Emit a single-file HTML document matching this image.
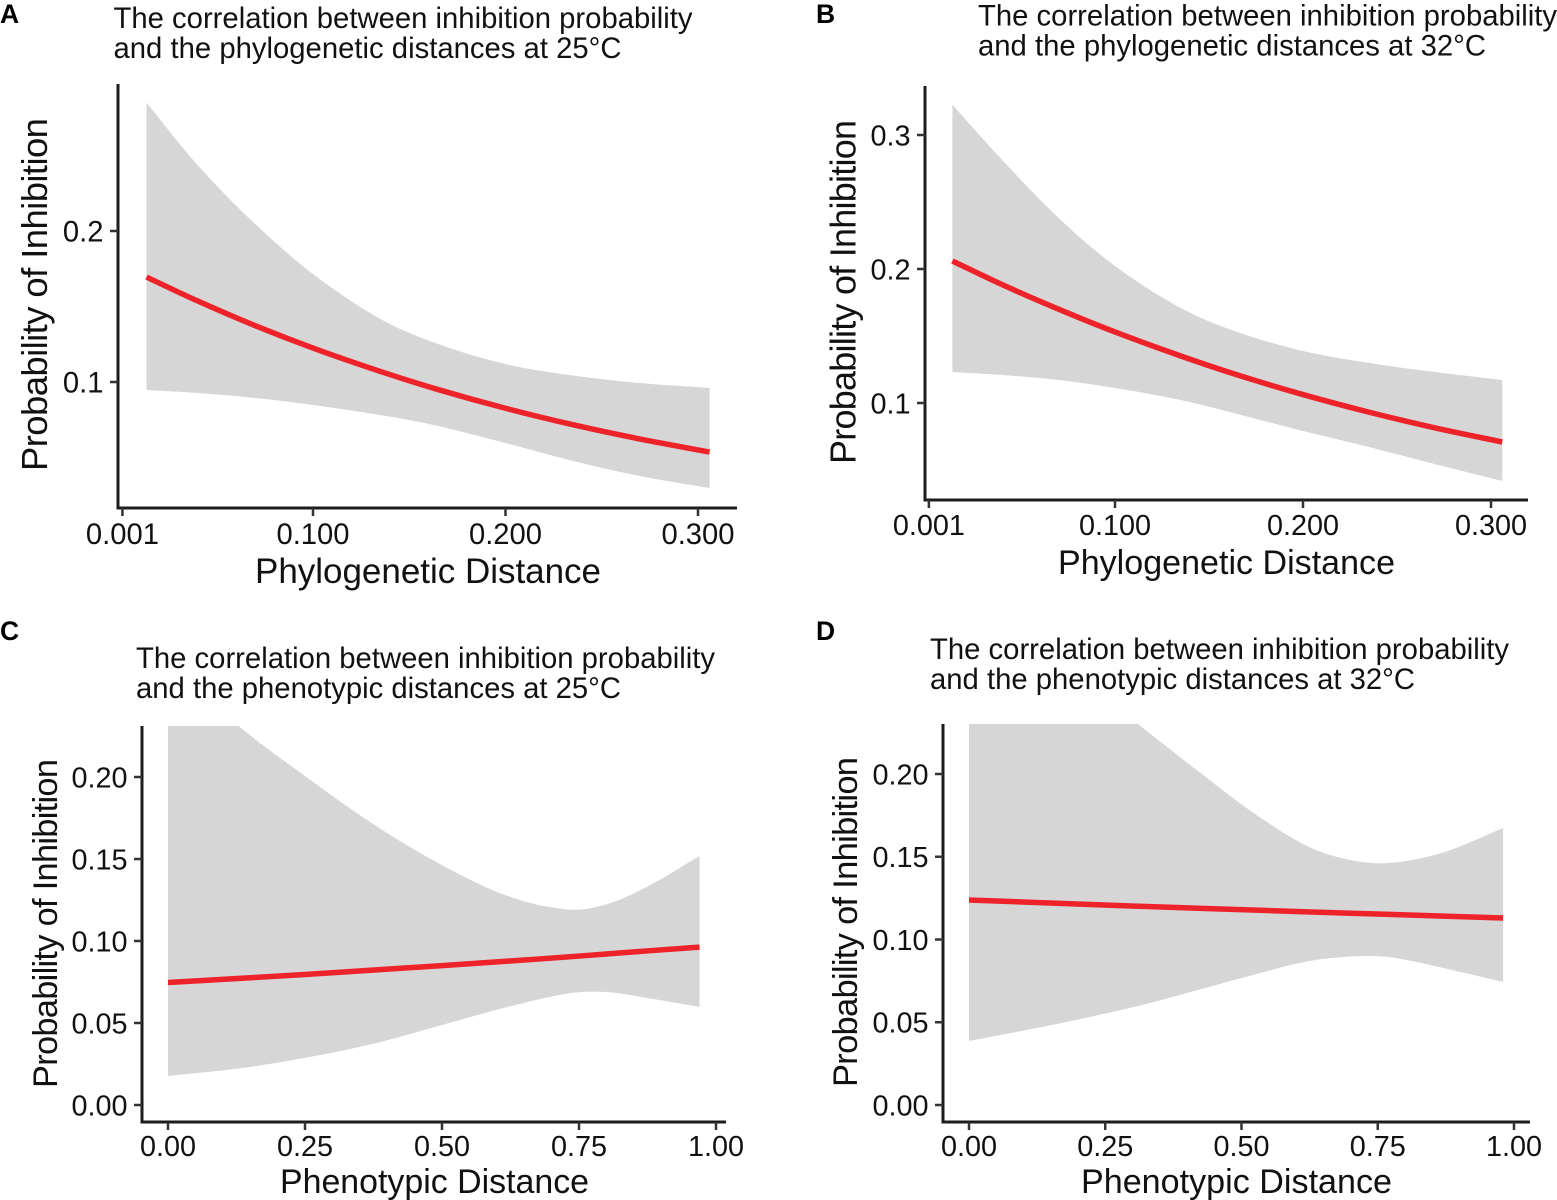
<!DOCTYPE html>
<html>
<head>
<meta charset="utf-8">
<title>Inhibition probability vs distance</title>
<style>
html,body{margin:0;padding:0;background:#fff;width:1557px;height:1200px;overflow:hidden}
svg{display:block}
text{font-family:"Liberation Sans",Arial,sans-serif;fill:#111}
.title{font-size:29.25px}
.letter{font-size:26.5px;font-weight:bold;fill:#000}
</style>
</head>
<body>
<svg id="chart" width="1557" height="1200" viewBox="0 0 1557 1200" xmlns="http://www.w3.org/2000/svg">
  <g id="panel-a">
    <text class="letter" x="0" y="23">A</text>
    <text class="title" x="113.5" y="28" textLength="579">The correlation between inhibition probability</text>
    <text class="title" x="113.5" y="58" textLength="508">and the phylogenetic distances at 25°C</text>
  </g>
  <g id="panel-b">
    <text class="letter" x="816" y="23">B</text>
    <text class="title" x="978" y="25.5" textLength="579">The correlation between inhibition probability</text>
    <text class="title" x="978" y="55.5" textLength="508">and the phylogenetic distances at 32°C</text>
  </g>
  <g id="panel-c">
    <text class="letter" x="0" y="640">C</text>
    <text class="title" x="136" y="668" textLength="579">The correlation between inhibition probability</text>
    <text class="title" x="136" y="698" textLength="485">and the phenotypic distances at 25°C</text>
  </g>
  <g id="panel-d">
    <text class="letter" x="816" y="640">D</text>
    <text class="title" x="930" y="659" textLength="579">The correlation between inhibition probability</text>
    <text class="title" x="930" y="689" textLength="485">and the phenotypic distances at 32°C</text>
  </g>
</svg>
<script>
// ---- Data ----
const phyloX = [0.0135, 0.04, 0.07, 0.1, 0.135, 0.165, 0.2, 0.235, 0.27, 0.306];
const aFit   = [0.1695, 0.1537, 0.1373, 0.1225, 0.1070, 0.0950, 0.0826, 0.0717, 0.0622, 0.0536];
const aUpper = [0.285, 0.2437, 0.2046, 0.1715, 0.1417, 0.1252, 0.1119, 0.1043, 0.0993, 0.096];
const aLower = [0.0947, 0.0927, 0.0894, 0.0848, 0.0781, 0.0709, 0.0596, 0.0477, 0.0377, 0.0298];

const bFit   = [0.206, 0.1883, 0.1700, 0.1530, 0.1351, 0.1210, 0.1063, 0.0932, 0.0815, 0.0709];
const bUpper = [0.3226, 0.2813, 0.2381, 0.2022, 0.1709, 0.153, 0.1388, 0.1299, 0.1231, 0.1172];
const bLower = [0.1231, 0.1209, 0.1172, 0.1112, 0.1022, 0.0918, 0.0791, 0.0672, 0.0545, 0.0418];

const cX     = [0, 0.13, 0.25, 0.38, 0.5, 0.62, 0.73, 0.8, 0.88, 0.97];
const cFit   = [0.0747, 0.0772, 0.0796, 0.0824, 0.0850, 0.0877, 0.0903, 0.0921, 0.0941, 0.0963];
const cUpper = [0.27, 0.2308, 0.2006, 0.1701, 0.1463, 0.1274, 0.1192, 0.1223, 0.1341, 0.1518];
const cLower = [0.0177, 0.0223, 0.0287, 0.0378, 0.0488, 0.0598, 0.068, 0.0689, 0.0649, 0.0598];

const dX     = [0, 0.16, 0.31, 0.42, 0.52, 0.62, 0.7, 0.77, 0.87, 0.98];
const dFit   = [0.1239, 0.1219, 0.1201, 0.1189, 0.1178, 0.1167, 0.1159, 0.1152, 0.1141, 0.113];
const dUpper = [0.315, 0.27, 0.2302, 0.2018, 0.177, 0.1565, 0.148, 0.1462, 0.1526, 0.1674];
const dLower = [0.0387, 0.0489, 0.0598, 0.0695, 0.0785, 0.0867, 0.0897, 0.0894, 0.0828, 0.0743];

const phyloXTicks = [0.001, 0.1, 0.2, 0.3];
const phyloXLabels = ['0.001', '0.100', '0.200', '0.300'];
const phenoXTicks = [0, 0.25, 0.5, 0.75, 1];
const phenoXLabels = ['0.00', '0.25', '0.50', '0.75', '1.00'];
const aYTicks = [0.1, 0.2];
const aYLabels = ['0.1', '0.2'];
const bYTicks = [0.1, 0.2, 0.3];
const bYLabels = ['0.1', '0.2', '0.3'];
const phenoYTicks = [0, 0.05, 0.1, 0.15, 0.2];
const phenoYLabels = ['0.00', '0.05', '0.10', '0.15', '0.20'];

const SVG_NS = 'http://www.w3.org/2000/svg';

function linearScale(d0, d1, r0, r1) {
  return function (v) { return r0 + (v - d0) * (r1 - r0) / (d1 - d0); };
}

// Cubic Hermite through the points; tangents account for uneven x spacing.
function smooth(pts, move) {
  function slope(i) {
    const a = pts[Math.max(i - 1, 0)];
    const b = pts[Math.min(i + 1, pts.length - 1)];
    return (b[1] - a[1]) / (b[0] - a[0]);
  }
  let d = (move ? 'M' : 'L') + pts[0][0].toFixed(2) + ' ' + pts[0][1].toFixed(2);
  for (let i = 0; i < pts.length - 1; i++) {
    const p1 = pts[i];
    const p2 = pts[i + 1];
    const h = (p2[0] - p1[0]) / 3;
    d += 'C' + (p1[0] + h).toFixed(2) + ' ' + (p1[1] + slope(i) * h).toFixed(2) + ' ' +
         (p2[0] - h).toFixed(2) + ' ' + (p2[1] - slope(i + 1) * h).toFixed(2) + ' ' +
         p2[0].toFixed(2) + ' ' + p2[1].toFixed(2);
  }
  return d;
}

function drawPanel(cfg) {
  const g = document.getElementById(cfg.id);
  const sx = linearScale(cfg.xd[0], cfg.xd[1], cfg.xr[0], cfg.xr[1]);
  const sy = linearScale(cfg.yd[0], cfg.yd[1], cfg.yr[0], cfg.yr[1]);
  const box = cfg.box;

  const clip = document.createElementNS(SVG_NS, 'clipPath');
  clip.setAttribute('id', cfg.id + '-clip');
  const clipRect = document.createElementNS(SVG_NS, 'rect');
  clipRect.setAttribute('x', box.left);
  clipRect.setAttribute('y', box.top);
  clipRect.setAttribute('width', box.right - box.left);
  clipRect.setAttribute('height', box.bottom - box.top);
  clip.appendChild(clipRect);
  g.appendChild(clip);

  const upperPts = cfg.x.map(function (v, i) { return [sx(v), sy(cfg.upper[i])]; });
  const lowerPts = cfg.x.map(function (v, i) { return [sx(v), sy(cfg.lower[i])]; }).reverse();
  const fitPts = cfg.x.map(function (v, i) { return [sx(v), sy(cfg.fit[i])]; });

  const band = document.createElementNS(SVG_NS, 'path');
  
  
  band.setAttribute('d', smooth(upperPts, true) + smooth(lowerPts, false) + 'Z');
  band.setAttribute('fill', '#d6d6d6');
  band.setAttribute('clip-path', 'url(#' + cfg.id + '-clip)');
  g.appendChild(band);

  const line = document.createElementNS(SVG_NS, 'path');
  
  
  line.setAttribute('d', smooth(fitPts, true));
  line.setAttribute('fill', 'none');
  line.setAttribute('stroke', '#ee2229');
  line.setAttribute('stroke-width', '5.5');
  g.appendChild(line);

  const axisY = document.createElementNS(SVG_NS, 'line');
  
  
  axisY.setAttribute('x1', box.left);
  axisY.setAttribute('x2', box.left);
  axisY.setAttribute('y1', box.top);
  axisY.setAttribute('y2', box.bottom + 1.5);
  axisY.setAttribute('stroke', '#1c1c1c');
  axisY.setAttribute('stroke-width', '3');
  g.appendChild(axisY);

  const axisX = document.createElementNS(SVG_NS, 'line');
  
  
  axisX.setAttribute('x1', box.left - 1.5);
  axisX.setAttribute('x2', box.right);
  axisX.setAttribute('y1', box.bottom);
  axisX.setAttribute('y2', box.bottom);
  axisX.setAttribute('stroke', '#1c1c1c');
  axisX.setAttribute('stroke-width', '3');
  g.appendChild(axisX);

  cfg.xTicks.forEach(function (v, i) {
    const t = document.createElementNS(SVG_NS, 'line');
    
    
    t.setAttribute('x1', sx(v));
    t.setAttribute('x2', sx(v));
    t.setAttribute('y1', box.bottom);
    t.setAttribute('y2', box.bottom + 8);
    t.setAttribute('stroke', '#333');
    t.setAttribute('stroke-width', '2.5');
    g.appendChild(t);

    const l = document.createElementNS(SVG_NS, 'text');
    
    
    l.setAttribute('x', sx(v));
    l.setAttribute('y', cfg.xLabelY);
    l.setAttribute('text-anchor', 'middle');
    l.setAttribute('font-size', cfg.tickFont);
    l.textContent = cfg.xLabels[i];
    g.appendChild(l);
  });

  cfg.yTicks.forEach(function (v, i) {
    const t = document.createElementNS(SVG_NS, 'line');
    
    
    t.setAttribute('x1', box.left - 8);
    t.setAttribute('x2', box.left);
    t.setAttribute('y1', sy(v));
    t.setAttribute('y2', sy(v));
    t.setAttribute('stroke', '#333');
    t.setAttribute('stroke-width', '2.5');
    g.appendChild(t);

    const l = document.createElementNS(SVG_NS, 'text');
    
    
    l.setAttribute('x', box.left - 14.5);
    l.setAttribute('y', sy(v) + cfg.tickFont * 0.36);
    l.setAttribute('text-anchor', 'end');
    l.setAttribute('font-size', cfg.tickFont);
    l.textContent = cfg.yLabels[i];
    g.appendChild(l);
  });

  const xTitle = document.createElementNS(SVG_NS, 'text');
  
  
  xTitle.setAttribute('x', cfg.xTitle.x);
  xTitle.setAttribute('y', cfg.xTitle.y);
  xTitle.setAttribute('font-size', cfg.xTitle.size);
  xTitle.setAttribute('textLength', cfg.xTitle.len);
  xTitle.textContent = cfg.xTitle.text;
  g.appendChild(xTitle);

  const yTitle = document.createElementNS(SVG_NS, 'text');
  
  
  yTitle.setAttribute('transform', 'translate(' + cfg.yTitle.x + ' ' + cfg.yTitle.y + ') rotate(-90)');
  yTitle.setAttribute('font-size', cfg.yTitle.size);
  yTitle.setAttribute('textLength', cfg.yTitle.len);
  yTitle.textContent = 'Probability of Inhibition';
  g.appendChild(yTitle);
}

drawPanel({
  id: 'panel-a', x: phyloX, fit: aFit, upper: aUpper, lower: aLower,
  xd: [0.1, 0.3], xr: [313, 698], yd: [0.1, 0.2], yr: [382, 231],
  box: { left: 118, right: 737, top: 84, bottom: 508 },
  xTicks: phyloXTicks, xLabels: phyloXLabels, yTicks: aYTicks, yLabels: aYLabels,
  tickFont: 29.2, xLabelY: 544,
  xTitle: { text: 'Phylogenetic Distance', x: 255, y: 583, size: 35, len: 346 },
  yTitle: { x: 47, y: 471, size: 36.5, len: 353 }
});
drawPanel({
  id: 'panel-b', x: phyloX, fit: bFit, upper: bUpper, lower: bLower,
  xd: [0.1, 0.3], xr: [1115, 1491], yd: [0.1, 0.3], yr: [403, 135],
  box: { left: 925, right: 1528, top: 86, bottom: 500 },
  xTicks: phyloXTicks, xLabels: phyloXLabels, yTicks: bYTicks, yLabels: bYLabels,
  tickFont: 28.8, xLabelY: 535,
  xTitle: { text: 'Phylogenetic Distance', x: 1058, y: 574, size: 34, len: 337 },
  yTitle: { x: 855.5, y: 464, size: 36, len: 344 }
});
drawPanel({
  id: 'panel-c', x: cX, fit: cFit, upper: cUpper, lower: cLower,
  xd: [0, 1], xr: [168, 716], yd: [0, 0.2], yr: [1105, 777],
  box: { left: 142, right: 726, top: 726, bottom: 1122 },
  xTicks: phenoXTicks, xLabels: phenoXLabels, yTicks: phenoYTicks, yLabels: phenoYLabels,
  tickFont: 28.8, xLabelY: 1156,
  xTitle: { text: 'Phenotypic Distance', x: 280, y: 1193, size: 33.9, len: 309 },
  yTitle: { x: 57, y: 1088, size: 34.4, len: 329 }
});
drawPanel({
  id: 'panel-d', x: dX, fit: dFit, upper: dUpper, lower: dLower,
  xd: [0, 1], xr: [969, 1514], yd: [0, 0.2], yr: [1105, 774],
  box: { left: 943, right: 1530, top: 724, bottom: 1122 },
  xTicks: phenoXTicks, xLabels: phenoXLabels, yTicks: phenoYTicks, yLabels: phenoYLabels,
  tickFont: 28.8, xLabelY: 1156,
  xTitle: { text: 'Phenotypic Distance', x: 1081, y: 1193, size: 34.1, len: 311 },
  yTitle: { x: 857, y: 1087, size: 34.5, len: 330 }
});
</script>
</body>
</html>
